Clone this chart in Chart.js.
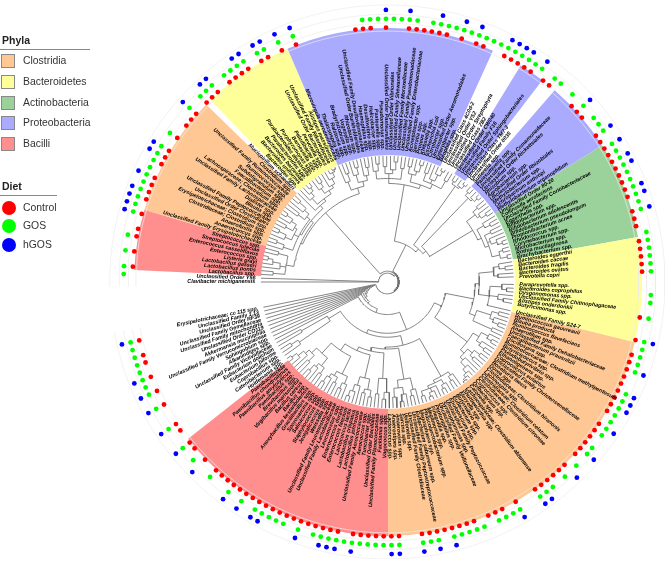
<!DOCTYPE html>
<html>
<head>
<meta charset="utf-8">
<title>Phyla and diet tree</title>
<script src="https://cdn.jsdelivr.net/npm/chart.js@4"></script>
<style>
  html, body { margin: 0; padding: 0; background: #fff; }
  body { width: 669px; height: 563px; position: relative; overflow: hidden; font-family: "Liberation Sans", Arial, sans-serif; }
  canvas { position: absolute; }
  #sectors { left: 128px; top: 22px; }
  #tree { left: 0; top: 0; }
  .head { position: absolute; left: 2px; font-size: 10.5px; font-weight: bold; color: #222; }
  .rule { position: absolute; left: 0; height: 1px; background: #888; }
  .name { position: absolute; left: 23px; font-size: 10.4px; color: #333; line-height: 14px; }
  .swatch { position: absolute; left: 1px; width: 14px; height: 14px; box-sizing: border-box; border: 1px solid #888; }
  .dot { position: absolute; left: 2px; width: 14px; height: 14px; border-radius: 50%; }
</style>
</head>
<body>
<canvas id="sectors" width="520" height="520"></canvas>
<canvas id="tree" width="669" height="563"></canvas>
<div id="legend"></div>
<script>
// legend
var phylaNames = ['Clostridia', 'Bacteroidetes', 'Actinobacteria', 'Proteobacteria', 'Bacilli'];
var phylaColors = ['#FFC794', '#FFFF99', '#9BD29B', '#AAAAFF', '#FF8F8F'];
var dietNames = ['Control', 'GOS', 'hGOS'];
var dietColors = ['#FF0000', '#00FF00', '#0000FF'];

// coloured sectors, clockwise from the first one, in degrees ('' = white gap)
var sectorPhyla = ['Bacilli', 'Clostridia', '', 'Bacteroidetes', 'Proteobacteria', '', 'Proteobacteria', '', 'Proteobacteria', 'Actinobacteria', 'Bacteroidetes', 'Clostridia', 'Bacilli', ''];
var sectorDegrees = [13.8, 27.8, 1.4, 21, 47.7, 7.1, 5.9, 3.6, 16.4, 22.4, 23.9, 76.3, 51.9, 40.8];

// leaf labels, clockwise from the opening of the tree
var namesRoot = ['Clavibacter michiganensis', 'Unclassified Order Y56'];
var namesBacilliA = ['Lactobacillus spp.', 'Lactobacillus pontis', 'Lactobacillus gasseri', 'Listeria grayi', 'Enterococcus spp.', 'Enterococcus casseliflavus', 'Streptococcus luteciae', 'Streptococcus spp.'];
var namesClostridiaA = ['Unclassified Family Erysipelotrichaceae', 'Anaerotruncus spp.', 'Anaerofustis spp.', 'Clostridiaceae; Clostridium spp.', 'Erysipelotrichaceae; Clostridium spp.', 'Unclassified Order Clostridiales', 'Unclassified Family Peptococcaceae', 'Blautia spp.', 'Dialister spp.', 'Unclassified Family Lachnospiraceae', 'Lachnospiraceae; Clostridium spp.', 'Faecalibacterium spp.', 'Subdoligranulum spp.', 'Ruminococcus spp.', 'Unclassified Family Ruminococcaceae', 'Clostridium spp.'];
var namesGapA = ['Mucispirillum schaedleri'];
var namesBacteroidetesA = ['Bacteroides spp.', 'Bacteroides uniformis', 'Bacteroides barnesiae', 'Parabacteroides spp.', 'Parabacteroides distasonis', 'Porphyromonas spp.', 'Barnesiella spp.', 'Paludibacter spp.', 'Prevotella spp.', 'Unclassified Order Bacteroidales', 'Unclassified Family Rikenellaceae', 'Alistipes massiliensis'];
var namesProteoA = ['Microvirgula aerodenitrificans', 'Thalassospira spp.', 'Ralstonia spp.', 'Bradyrhizobium spp.', 'Vogesella spp.', 'Rhizobium spp.', 'Unclassified Order Burkholderiales', 'Unclassified Family Desulfovibrionaceae', 'Haemophilus spp.', 'Desulfovibrio spp.', 'Helicobacter spp.', 'Pasteurella spp.', 'Pseudomonas spp.', 'Unclassified Order Pasteurellales', 'Unclassified Order Vibrionales', 'Unclassified Family Shewanellaceae', 'Unclassified Family Moraxellaceae', 'Unclassified Family Pseudomonadaceae', 'Unclassified Family Enterobacteriaceae', 'Acinetobacter spp.', 'Serratia spp.', 'Proteus spp.', 'Klebsiella spp.', 'Escherichia coli', 'Citrobacter spp.', 'Unclassified Order Aeromonadales', 'Enterobacter spp.', 'Bilophila spp.'];
var namesGapB = ['Unclassified Class 4C0d-2', 'Unclassified Order YS2', 'Unclassified Order Streptophyta', 'Unclassified Class ZB2'];
var namesProteoB = ['Unclassified Order CW040', 'Unclassified Family F16', 'Unclassified Order Sphingobacteriales'];
var namesGapC = ['Unclassified Class TM7-3', 'Unclassified Order 0035'];
var namesProteoC = ['Sutterella spp.', 'Parasutterella spp.', 'Unclassified Family Comamonadaceae', 'Unclassified Order Rickettsiales', 'Rhizobium spp.', 'Agrobacterium spp.', 'Unclassified Order Rhizobiales', 'Methylobacterium spp.', 'Ochrobactrum anthropi', 'Methylobacterium organophilum'];
var namesActino = ['Unclassified Order 80-20', 'Collinsella aerofaciens', 'Unclassified Family Coriobacteriaceae', 'Eggerthella spp.', 'Bifidobacterium spp.', 'Bifidobacterium adolescentis', 'Bifidobacterium pseudolongum', 'Propionibacterium acnes', 'Rhodococcus spp.', 'Corynebacterium spp.', 'Microbacterium spp.', 'Rothia mucilaginosa', 'Brachybacterium spp.'];
var namesBacteroidetesB = ['Bacteroides eggerthii', 'Bacteroides caccae', 'Bacteroides fragilis', 'Bacteroides ovatus', 'Prevotella copri', '', 'Paraprevotella spp.', 'Bacteroides coprophilus', 'Dysgonomonas spp.', 'Unclassified Family Chitinophagaceae', 'Alistipes onderdonkii', 'Butyricimonas spp.', '', 'Unclassified Family S24-7'];
var namesClostridiaB = ['Ruminococcus gauvreauii', 'Blautia producta', 'Ruminococcus flavefaciens', 'Anaerofilum spp.', 'Unclassified Family Dehalobacteriaceae', 'Faecalibacterium prausnitzii', 'Oscillospira spp.', 'Ruminococcaceae; Clostridium methylpentosum', 'Butyricicoccus spp.', 'Pseudobutyrivibrio spp.', 'Ethanoligenens spp.', 'Coprococcus eutactus', 'Unclassified Family Christensenellaceae', 'Roseburia faecis', 'Dorea spp.', 'Clostridiaceae; Clostridium hiranonis', 'Lachnospira spp.', 'Clostridiaceae; Clostridium celatum', 'Clostridiaceae; Clostridium citroniae', 'Coprococcus spp.', 'Oribacterium spp.', 'Catonella spp.', 'Lachnospiraceae; Clostridium aldenense', 'Shuttleworthia spp.', 'Moryella spp.', 'Butyrivibrio spp.', 'Eubacterium spp.', 'Epulopiscium spp.', 'Unclassified Family Peptococcaceae', 'Syntrophomonas spp.', 'Unclassified Family Veillonellaceae', 'Peptoniphilus spp.', 'Finegoldia spp.', 'Megamonas spp.', 'Phascolarctobacterium spp.', 'Megasphaera spp.', 'Eubacterium saburreum spp.', 'Unclassified Family Peptostreptococcaceae', 'Unclassified Family Clostridiaceae', 'Veillonella spp.', 'Sarcina spp.', 'Anaerovorax spp.', 'Anaerostipes spp.', 'Lactococcus spp.'];
var namesBacilliB = ['Vagococcus spp.', 'Facklamia spp.', 'Unclassified Family Planococcaceae', 'Unclassified Order Bacillales', 'Turicibacter spp.', 'Aerococcus spp.', 'Unclassified Family Aerococcaceae', 'Lactobacillus johnsonii', 'Lactobacillus crispatus', 'Lactococcus lactis', 'Enterococcus faecium', 'Enterococcus durans', 'Leuconostoc spp.', 'Unclassified Family Lactobacillaceae', 'Unclassified Family Leuconostocaceae', 'Weissella spp.', 'Jeotgalicoccus spp.', 'Staphylococcus spp.', 'Salinicoccus spp.', 'Sporosarcina spp.', 'Gracilibacillus spp.', 'Anoxybacillus kestanbolensis', 'Bacillus spp.', 'Bacillus cereus', 'Virgibacillus marismortui', 'Brevibacillus spp.', 'Paenibacillus spp.', 'Paenibacillus amylolyticus', 'Paenibacillus chondroitinus', 'Paenibacillaceae'];
var namesOpen = ['Holdemania spp.', 'Catenibacterium spp.', 'Coprobacillus spp.', 'Eubacterium biforme', 'Eubacterium dolichum', 'Unclassified Family Victivallaceae', 'Alkanindiges spp.', 'Sphingobium spp.', 'Unclassified Family Verrucomicrobiaceae', 'Akkermansia muciniphila', 'Unclassified Order CO119', 'Unclassified Family mitochondria', 'Unclassified Family Gemellaceae', 'Unclassified Order RF39', 'Unclassified Family 1.13', 'Erysipelotrichaceae; cc 115 spp.'];
var leafNames = [].concat(namesRoot, namesBacilliA, namesClostridiaA, namesGapA, namesBacteroidetesA, namesProteoA, namesGapB, namesProteoB, namesGapC, namesProteoC, namesActino, namesBacteroidetesB, namesClostridiaB, namesBacilliB, namesOpen);

// which leaves carry a dot in each diet ring
var controlLeaves = [2, 4, 6, 7, 9, 11, 12, 13, 14, 16, 17, 18, 20, 22, 23, 24, 26, 27, 28, 30, 31, 32, 33, 35, 36, 38, 40, 48, 49, 50, 52, 55, 56, 57, 58, 59, 60, 62, 64, 65, 68, 69, 70, 71, 72, 74, 75, 79, 80, 81, 84, 85, 86, 87, 88, 89, 90, 91, 92, 93, 95, 96, 97, 99, 100, 101, 102, 103, 109, 112, 114, 115, 116, 117, 118, 119, 120, 121, 122, 124, 125, 126, 127, 128, 129, 131, 132, 133, 134, 135, 136, 139, 141, 142, 143, 145, 146, 147, 148, 149, 150, 151, 152, 155, 156, 157, 158, 159, 160, 161, 163, 164, 165, 166, 167, 168, 169, 170, 171, 172, 173, 174, 175, 176, 177, 178, 179, 180, 181, 183, 185, 186, 188, 189, 192, 194, 196, 198, 199, 201];
var gosLeaves = [1, 2, 4, 6, 9, 10, 11, 12, 13, 14, 15, 16, 17, 18, 20, 24, 26, 27, 28, 30, 31, 32, 33, 35, 36, 38, 40, 49, 50, 51, 52, 53, 54, 55, 56, 58, 59, 60, 61, 62, 63, 64, 65, 66, 67, 68, 69, 70, 71, 72, 73, 75, 76, 78, 80, 82, 83, 84, 86, 87, 88, 89, 90, 91, 92, 93, 94, 95, 98, 99, 100, 101, 102, 103, 106, 107, 109, 112, 113, 114, 115, 116, 119, 120, 121, 122, 123, 124, 125, 127, 128, 130, 132, 134, 135, 136, 139, 140, 141, 142, 144, 145, 146, 147, 148, 150, 151, 152, 155, 156, 157, 158, 159, 160, 161, 162, 163, 164, 165, 166, 168, 170, 171, 172, 173, 174, 176, 178, 181, 184, 186, 189, 192, 194, 195, 196, 197, 198, 199, 200, 201];
var hgosLeaves = [9, 10, 11, 12, 14, 17, 18, 24, 27, 28, 32, 33, 35, 36, 38, 40, 52, 55, 59, 62, 64, 68, 69, 70, 71, 73, 80, 84, 86, 88, 89, 92, 93, 95, 112, 116, 119, 120, 121, 124, 128, 131, 135, 136, 139, 148, 150, 152, 155, 156, 161, 163, 164, 165, 168, 173, 174, 176, 178, 183, 186, 189, 192, 194, 196, 201];

// dendrogram: [radius of the clade's arc, child, child...], a plain number is a leaf
var cladeBacilliA = [104, [116, 2, 3], [110, 4, [118, 5, [123, 6, 7]]], [114, 8, 9]];
var cladeClostridiaA = [101, [111, 10, [119, 11, 12]], [106, [113, 13, [121, 14, 15]], [109, [117, 16, 17], [115, 18, [122, 19, 20]]]], [105, [113, 21, 22], [111, 23, [120, 24, 25]]]];
var cladeBacteroidetesA = [103, 26, [106, [114, 27, [119, 28, [123, 29, 30]]], [110, [116, 31, [121, 32, 33]], [113, 34, [119, 35, [124, 36, [126, 37, 38]]]]]]];
var cladeProteoA = [100, [109, 39, [117, 40, 41]], [105, [113, 42, [120, 43, 44]], [110, 45, [118, 46, 47]]]];
var cladeLeft = [94, [96, cladeBacilliA, [99, cladeClostridiaA, cladeBacteroidetesA]], cladeProteoA];
var cladeProteoB = [100, [105, [113, 48, [120, 49, 50]], [110, [117, 51, 52], [114, 53, [122, 54, 55]]], [116, 56, 57]], [104, [112, [119, 58, 59], [116, 60, [123, 61, 62]]], [109, [117, 63, 64], [113, 65, [120, 66, [125, 67, 68]]], [118, 69, 70]]]];
var cladeProteoC = [119, [122, 71, 72], [121, 73, [125, 74, 75]]];
var cladeProteoD = [118, [122, 76, 77], [120, 78, [124, 79, 80]]];
var cladeActino = [101, [112, [118, 81, 82], [115, 83, [121, 84, 85]]], [105, [113, 86, [119, 87, 88]], [109, [116, 89, 90], [112, 91, [118, 92, [123, 93, 94]]], [117, [121, 95, 96], [124, 97, 98]]]]];
var cladeRightTop = [37, [42, cladeProteoB, [46, cladeProteoC, [50, cladeProteoD, cladeActino]]]];
var cladeBacteroidetesB = [93, [108, [114, 99, [120, 100, 101]], [112, 102, 103]], [104, [116, 105, [121, 106, 107]], [113, 108, [119, 109, 110]], 112]];
var cladeClostridiaB = [95, [110, [117, 113, 114], [114, 115, [120, 116, 117]]], [116, 118, 119]];
var cladeClostridiaC = [101, [108, [116, 120, [121, 121, 122]], [113, 123, [119, 124, 125]]], [106, [112, [119, 126, 127], [116, 128, 129]], [110, 130, [117, 131, [122, 132, [125, 133, [127, 134, 135]]]]]]];
var cladeClostridiaD = [110, [114, 136, [119, 137, 138]], [113, [118, 139, [122, 140, 141]], [116, 142, [120, 143, [124, 144, 145]], [121, 146, 147]]]];
var cladeClostridiaE = [100, [112, 148, [118, 149, 150]], [108, [115, 151, [122, 152, 153]], [117, 154, 155]]];
var cladeBacilliC = [98, [112, 156, [119, 157, 158]], [114, 159, 160]];
var cladeBacilliD = [100, [111, [118, 161, 162], [115, 163, 164]], [109, 165, [116, 166, [122, 167, 168]]]];
var cladeBacilliE = [84, [104, [112, 169, [118, 170, 171]], [109, [115, 172, 173], [113, 174, [120, 175, 176]]]], [98, [108, [115, 177, 178], [112, 179, [119, 180, 181]]], [105, [113, 182, 183], [110, 184, [117, 185, [123, 186, 187]]]]]];
var cladeOpen = [70, [108, 188, [116, 189, 190]], [100, 191, 192]];
var cladeLower = [52, [60, [89, cladeBacteroidetesB, cladeClostridiaB], cladeClostridiaC], [56, [66, cladeClostridiaD, [68, cladeClostridiaE, [72, cladeBacilliC, [76, cladeBacilliD, cladeBacilliE]]]], cladeOpen]];
var cladeSpiral = [13, [15, [17, [19, [21, [23, [25, [27, [29, [33, cladeLower, 193], 194], 195], 196], 197], 198], 199], 200], 201], 202];
var treeRoot = [9, 0, 1, [11, cladeLeft, [12, cladeRightTop, cladeSpiral]]];

// layout of the circle, in scale units (1 unit = 1 px)
var firstLeafDeg = 270, leafStep = 1.725;
var leafTipR = 128, labelR = 132;
var controlR = 258, gosR = 267, hgosR = 276;
var ringRadii = [254.5, 262.5, 271.5, 281];

function polar(deg, r) {
    var a = deg * Math.PI / 180;
    return { x: r * Math.sin(a), y: r * Math.cos(a) };
}
function leafDeg(i) { return firstLeafDeg + leafStep * i; }
function ringDots(leaves, r) { return leaves.map(function (i) { return polar(leafDeg(i), r); }); }

var treeLine = [];
function addArc(list, r, from, to) {
    for (var d = from; d < to; d += 2) list.push(polar(d, r));
    list.push(polar(to, r));
    list.push({ x: NaN, y: NaN });
}
function walk(node) {
    if (typeof node === 'number') return { deg: leafDeg(node), r: leafTipR };
    var r = node[0];
    var kids = node.slice(1).map(walk);
    var from = kids[0].deg, to = kids[kids.length - 1].deg;
    if (to > from) addArc(treeLine, r, from, to);
    kids.forEach(function (k) {
        treeLine.push(polar(k.deg, r), polar(k.deg, k.r), { x: NaN, y: NaN });
    });
    return { deg: (from + to) / 2, r: r };
}
walk(treeRoot);

var ringLine = [];
ringRadii.forEach(function (r) { addArc(ringLine, r, leafDeg(0) - 1, leafDeg(leafNames.length - 1) + 1); });

// coloured sectors sit under the tree in their own doughnut
new Chart(document.getElementById('sectors'), {
    type: 'doughnut',
    data: {
        labels: sectorPhyla,
        datasets: [{
            data: sectorDegrees,
            backgroundColor: sectorPhyla.map(function (p) {
                var k = phylaNames.indexOf(p);
                return k < 0 ? 'rgba(0,0,0,0)' : phylaColors[k];
            }),
            borderWidth: 0
        }]
    },
    options: {
        responsive: false,
        animation: false,
        rotation: 272.7,
        radius: 254,
        cutout: 130,
        plugins: { legend: { display: false }, tooltip: { enabled: false } }
    }
});

var leafLabels = {
    id: 'leafLabels',
    afterDatasetsDraw: function (chart) {
        var c = chart.ctx, xs = chart.scales.x, ys = chart.scales.y;
        var cx = xs.getPixelForValue(0), cy = ys.getPixelForValue(0);
        c.save();
        c.font = 'italic bold 5.4px "Liberation Sans", Arial, sans-serif';
        c.fillStyle = '#000';
        c.textBaseline = 'middle';
        leafNames.forEach(function (name, i) {
            if (!name) return;
            var deg = leafDeg(i) % 360;
            var right = deg < 180;
            c.save();
            c.translate(cx, cy);
            c.rotate((right ? deg - 90 : deg + 90) * Math.PI / 180);
            c.textAlign = right ? 'left' : 'right';
            c.fillText(name, right ? labelR : -labelR, 0);
            c.restore();
        });
        c.restore();
    }
};

new Chart(document.getElementById('tree'), {
    type: 'scatter',
    data: {
        datasets: [
            { data: ringLine, showLine: true, borderColor: '#ececec', borderWidth: 0.7, pointRadius: 0 },
            { data: treeLine, showLine: true, borderColor: '#666', borderWidth: 0.8, pointRadius: 0 },
            { label: dietNames[0], data: ringDots(controlLeaves, controlR), backgroundColor: dietColors[0], borderWidth: 0, pointRadius: 2.4 },
            { label: dietNames[1], data: ringDots(gosLeaves, gosR), backgroundColor: dietColors[1], borderWidth: 0, pointRadius: 2.4 },
            { label: dietNames[2], data: ringDots(hgosLeaves, hgosR), backgroundColor: dietColors[2], borderWidth: 0, pointRadius: 2.4 }
        ]
    },
    options: {
        responsive: false,
        animation: false,
        layout: { padding: 0 },
        plugins: { legend: { display: false }, tooltip: { enabled: false } },
        scales: {
            x: { type: 'linear', display: false, min: -388, max: 281 },
            y: { type: 'linear', display: false, min: -281, max: 282 }
        }
    },
    plugins: [leafLabels]
});

// side legend
var legend = document.getElementById('legend');
function add(cls, top, text, extra) {
    var d = document.createElement('div');
    d.className = cls;
    d.style.top = top + 'px';
    if (text) d.textContent = text;
    if (extra) Object.assign(d.style, extra);
    legend.appendChild(d);
}
add('head', 34, 'Phyla');
add('rule', 49, '', { width: '90px' });
phylaNames.forEach(function (n, i) {
    var y = 54 + i * 20.8;
    add('swatch', y, '', { background: phylaColors[i] });
    add('name', y, n);
});
add('head', 180, 'Diet');
add('rule', 195, '', { width: '57px' });
dietNames.forEach(function (n, i) {
    var y = 201 + i * 18.3;
    add('dot', y, '', { background: dietColors[i] });
    add('name', y, n);
});
</script>
</body>
</html>
